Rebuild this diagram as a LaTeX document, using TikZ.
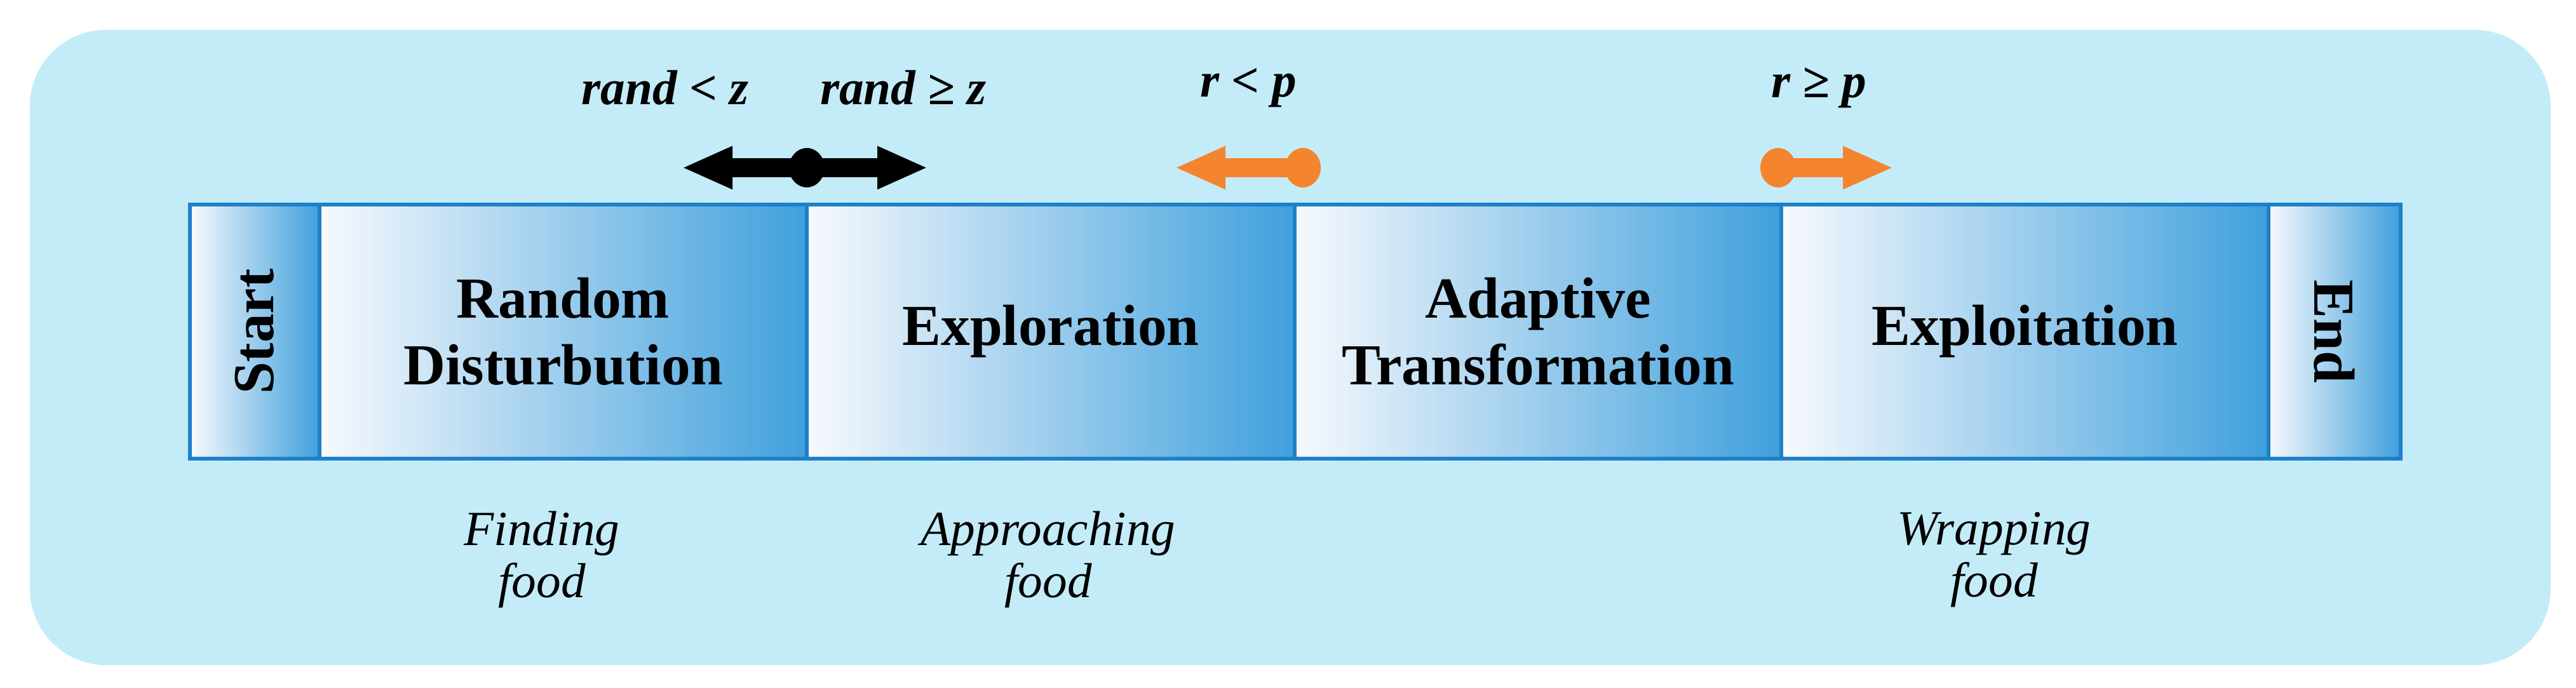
\documentclass[tikz,border=0pt]{standalone}
\usepackage{fontspec}
\setmainfont{Liberation Serif}
\usetikzlibrary{arrows.meta}
\definecolor{bg}{HTML}{C4ECF8}
\definecolor{edge}{HTML}{1E80C8}
\definecolor{dark}{HTML}{3FA0DC}
\definecolor{light}{HTML}{F7F9FD}
\definecolor{orng}{HTML}{F5842E}
\tikzset{
 phase/.style={draw=edge,line width=0.06cm,left color=light,right color=dark,middle color=light!50!dark,shading angle=90},
 ptext/.style={font=\fontsize{26}{30}\selectfont\bfseries,align=center},
 ltext/.style={font=\fontsize{22}{24}\selectfont\bfseries\itshape,align=center},
 ftext/.style={font=\fontsize{22}{23.5}\selectfont\itshape,align=center},
 arr/.style={line width=0.3cm,-{Triangle[length=0.8cm,width=0.62cm]}},
}
\begin{document}
\begin{tikzpicture}
\useasboundingbox (0,0) rectangle (40.55,10.83);
\fill[bg,rounded corners=1.2cm] (0.47,0.36) rectangle (40.15,10.36);
\foreach \a/\b/\n in {2.99/5.03/s,5.03/12.70/p1,12.70/20.38/p2,20.38/28.04/p3,28.04/35.71/p4,35.71/37.79/e}{
 \shade[phase] (\a,3.61) rectangle (\b,7.61);
 \coordinate (\n) at ({(\a+\b)/2},5.61);
}
\node[ptext,rotate=90] (start) at (s) {Start};
\node[ptext,rotate=-90] (end) at (e) {End};
\node[ptext] (rd) at (p1) {Random\\Disturbution};
\node[ptext] (ex) at (p2) {Exploration};
\node[ptext] (at) at (p3) {Adaptive\\Transformation};
\node[ptext] (ei) at (p4) {Exploitation};
% arrows
\coordinate (d1) at (12.70,8.19);
\coordinate (l1) at (10.73,8.19);
\coordinate (r1) at (14.61,8.19);
\draw[arr] (d1) -- (l1);
\draw[arr] (d1) -- (r1);
\fill (d1) ellipse (0.28 and 0.31);
\coordinate (d2) at (20.51,8.19);
\coordinate (l2) at (18.49,8.19);
\draw[arr,orng] (d2) -- (l2);
\fill[orng] (d2) ellipse (0.28 and 0.31);
\coordinate (d3) at (27.99,8.19);
\coordinate (r3) at (29.81,8.19);
\draw[arr,orng] (d3) -- (r3);
\fill[orng] (d3) ellipse (0.28 and 0.31);
\node[ltext] (t1) at (10.47,9.45) {rand < z};
\node[ltext] (t2) at (14.22,9.45) {rand ≥ z};
\node[ltext] (t3) at (19.65,9.45) {r < p};
\node[ltext] (t4) at (28.63,9.45) {r ≥ p};
\node[ftext] (f1) at (8.53,2.02) {Finding\\food};
\node[ftext] (f2) at (16.50,2.02) {Approaching\\food};
\node[ftext] (f3) at (31.39,2.02) {Wrapping\\food};
\end{tikzpicture}
\end{document}
